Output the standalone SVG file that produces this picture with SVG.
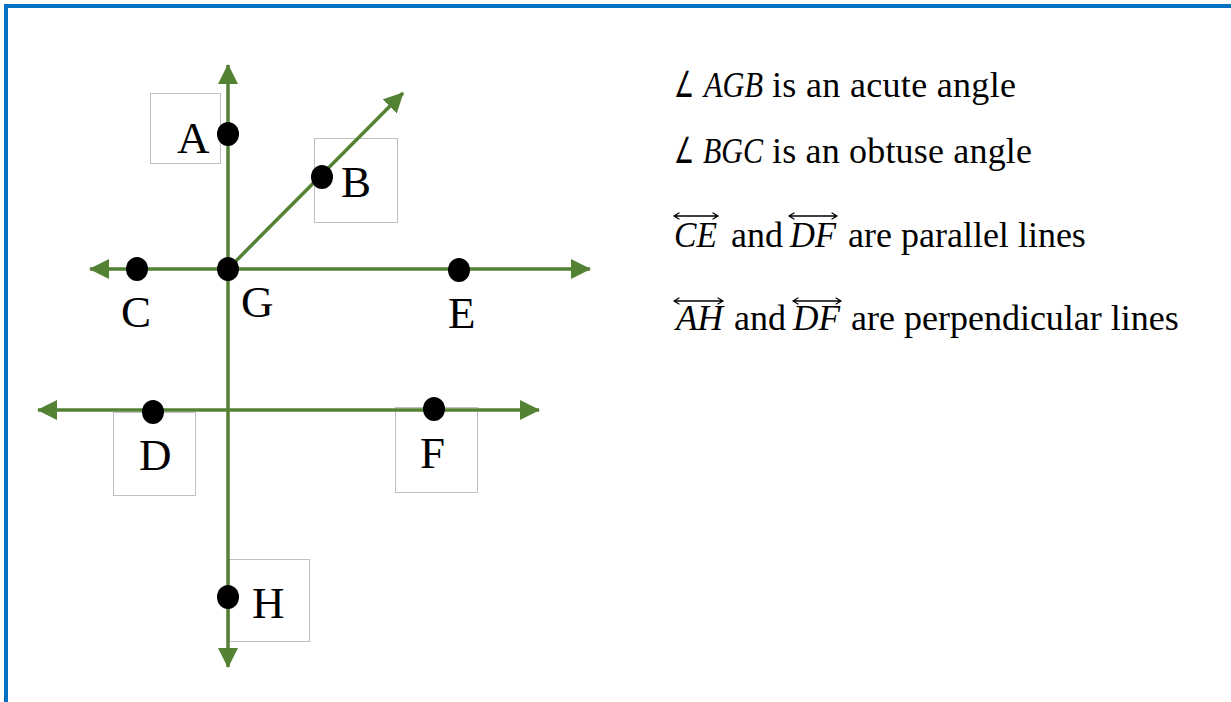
<svg xmlns="http://www.w3.org/2000/svg" width="1231" height="702" viewBox="0 0 1231 702">
  <style>
    .ln { stroke: #548235; stroke-width: 3.5; fill: none; marker-start: url(#ah); marker-end: url(#ah); }
    .ray { stroke: #548235; stroke-width: 3.5; fill: none; marker-end: url(#ah); }
    .box { fill: none; stroke: #bfbfbf; stroke-width: 1; }
    .dot { fill: #000; }
    .lbl { font-family: "Liberation Serif", "Times New Roman", serif; font-size: 45px; fill: #000; }
    .txt { font-family: "Liberation Serif", "Times New Roman", serif; font-size: 36px; fill: #000; }
    .mi { font-style: italic; }
    .ang { font-family: "DejaVu Sans", sans-serif; font-style: normal; }
    .ov { stroke: #000; stroke-width: 1.3; fill: none; stroke-linecap: round; stroke-linejoin: round; }
  </style>
  <defs>
    <marker id="ah" viewBox="0 0 20 20" markerWidth="20" markerHeight="20" markerUnits="userSpaceOnUse" refX="19" refY="10" orient="auto-start-reverse">
      <path d="M0,0 L20,10 L0,20 Z" fill="#548235"/>
    </marker>
  </defs>
  <rect width="1231" height="702" fill="#ffffff"/>
  <g id="frame">
    <line x1="4" y1="6" x2="1231" y2="6" stroke="#0070c0" stroke-width="4"/>
    <line x1="6" y1="4" x2="6" y2="702" stroke="#0070c0" stroke-width="4"/>
  </g>
  <g id="label-boxes">
    <rect class="box" x="150.5" y="93.5" width="70" height="70"/>
    <rect class="box" x="314.5" y="138.5" width="83" height="84"/>
    <rect class="box" x="113.5" y="412.5" width="82" height="83"/>
    <rect class="box" x="395.5" y="407.5" width="82" height="85"/>
    <rect class="box" x="229.5" y="559.5" width="80" height="82"/>
  </g>
  <g id="connectors">
    <line class="ln" x1="228" y1="65" x2="228" y2="667"/>
    <line class="ln" x1="90" y1="269" x2="590" y2="269"/>
    <line class="ln" x1="38" y1="410" x2="539" y2="410"/>
    <line class="ray" x1="228" y1="269" x2="403" y2="93"/>
  </g>
  <g id="node-A">
    <ellipse class="dot" cx="228" cy="134" rx="11" ry="12"/>
    <text class="lbl" x="177" y="153">A</text>
  </g>
  <g id="node-B">
    <ellipse class="dot" cx="322" cy="177" rx="11" ry="12"/>
    <text class="lbl" x="341" y="197">B</text>
  </g>
  <g id="node-C">
    <ellipse class="dot" cx="137" cy="269" rx="11" ry="12"/>
    <text class="lbl" x="121" y="327">C</text>
  </g>
  <g id="node-G">
    <ellipse class="dot" cx="228" cy="269" rx="11" ry="12"/>
    <text class="lbl" x="241" y="317">G</text>
  </g>
  <g id="node-E">
    <ellipse class="dot" cx="459" cy="270" rx="11" ry="12"/>
    <text class="lbl" x="448" y="328">E</text>
  </g>
  <g id="node-D">
    <ellipse class="dot" cx="153" cy="412" rx="11" ry="12"/>
    <text class="lbl" x="139" y="470">D</text>
  </g>
  <g id="node-F">
    <ellipse class="dot" cx="434" cy="409" rx="11" ry="12"/>
    <text class="lbl" x="420" y="468">F</text>
  </g>
  <g id="node-H">
    <ellipse class="dot" cx="228" cy="597" rx="11" ry="12"/>
    <text class="lbl" x="252" y="618">H</text>
  </g>
  <g id="statements">
    <g id="stmt-1">
      <text class="txt" y="97"><tspan class="ang" x="674" textLength="20" lengthAdjust="spacingAndGlyphs">∠</tspan><tspan class="mi" x="704" textLength="59" lengthAdjust="spacingAndGlyphs">AGB</tspan><tspan x="772" textLength="244" lengthAdjust="spacing">is an acute angle</tspan></text>
    </g>
    <g id="stmt-2">
      <text class="txt" y="163"><tspan class="ang" x="674" textLength="20" lengthAdjust="spacingAndGlyphs">∠</tspan><tspan class="mi" x="703" textLength="60" lengthAdjust="spacingAndGlyphs">BGC</tspan><tspan x="772" textLength="260" lengthAdjust="spacing">is an obtuse angle</tspan></text>
    </g>
    <g id="stmt-3">
      <text class="txt" y="247"><tspan class="mi" x="674" textLength="43" lengthAdjust="spacingAndGlyphs">CE</tspan><tspan x="731">and</tspan><tspan class="mi" x="790" textLength="46" lengthAdjust="spacingAndGlyphs">DF</tspan><tspan x="848">are parallel lines</tspan></text>
      <path class="ov" d="M674,216 H718 M674,216 l5,-3 M674,216 l5,3 M718,216 l-5,-3 M718,216 l-5,3"/>
      <path class="ov" d="M789,216 H837 M789,216 l5,-3 M789,216 l5,3 M837,216 l-5,-3 M837,216 l-5,3"/>
    </g>
    <g id="stmt-4">
      <text class="txt" y="330"><tspan class="mi" x="676" textLength="47" lengthAdjust="spacingAndGlyphs">AH</tspan><tspan x="734">and</tspan><tspan class="mi" x="793" textLength="47" lengthAdjust="spacingAndGlyphs">DF</tspan><tspan x="851">are perpendicular lines</tspan></text>
      <path class="ov" d="M674,301 H723 M674,301 l5,-3 M674,301 l5,3 M723,301 l-5,-3 M723,301 l-5,3"/>
      <path class="ov" d="M793,301 H841 M793,301 l5,-3 M793,301 l5,3 M841,301 l-5,-3 M841,301 l-5,3"/>
    </g>
  </g>
</svg>
